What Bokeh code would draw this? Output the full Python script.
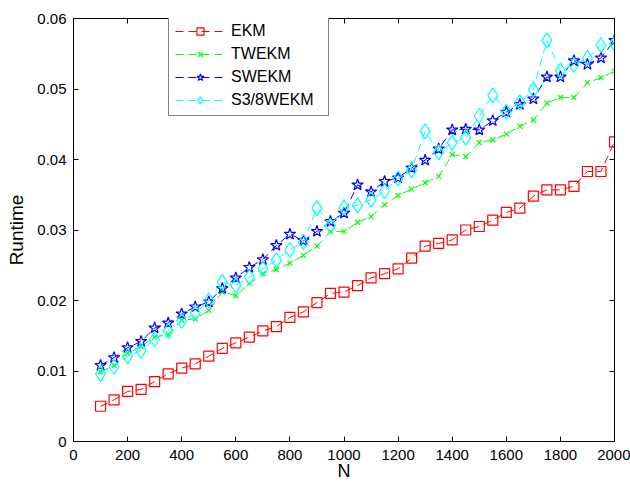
from bokeh.plotting import figure
from bokeh.models import (Range1d, FixedTicker, LinearAxis, Legend, LegendItem,
                          CustomJSTickFormatter)
from bokeh.embed import file_html
from bokeh.resources import INLINE

# Problem sizes
N = [100, 150, 200, 250, 300, 350, 400, 450, 500, 550, 600, 650, 700, 750,
     800, 850, 900, 950, 1000, 1050, 1100, 1150, 1200, 1250, 1300, 1350,
     1400, 1450, 1500, 1550, 1600, 1650, 1700, 1750, 1800, 1850, 1900,
     1950, 2000]

# Runtimes per method
ekm = [0.0050, 0.0059, 0.0071, 0.0074, 0.0085, 0.0096, 0.0104, 0.0110,
       0.0121, 0.0132, 0.0140, 0.0148, 0.0157, 0.0163, 0.0176, 0.0184,
       0.0197, 0.0210, 0.0212, 0.0221, 0.0232, 0.0238, 0.0245, 0.0260,
       0.0277, 0.0281, 0.0286, 0.0300, 0.0305, 0.0314, 0.0325, 0.0331,
       0.0348, 0.0357, 0.0357, 0.0362, 0.0383, 0.0383, 0.0425]
twekm = [0.0099, 0.0108, 0.0125, 0.0135, 0.0148, 0.0152, 0.0172, 0.0174,
         0.0186, 0.0212, 0.0207, 0.0224, 0.0238, 0.0244, 0.0253, 0.0264,
         0.0277, 0.0298, 0.0298, 0.0311, 0.0319, 0.0336, 0.0349, 0.0358,
         0.0367, 0.0376, 0.0407, 0.0404, 0.0424, 0.0428, 0.0436, 0.0447,
         0.0456, 0.0480, 0.0488, 0.0488, 0.0509, 0.0516, 0.0525]
swekm = [0.0108, 0.0119, 0.0133, 0.0142, 0.0161, 0.0168, 0.0181, 0.0191,
         0.0198, 0.0217, 0.0232, 0.0247, 0.0258, 0.0278, 0.0294, 0.0285,
         0.0298, 0.0312, 0.0324, 0.0364, 0.0354, 0.0369, 0.0374, 0.0388,
         0.0399, 0.0415, 0.0442, 0.0443, 0.0442, 0.0455, 0.0467, 0.0478,
         0.0486, 0.0517, 0.0517, 0.0540, 0.0535, 0.0544, 0.0569]
s38wekm = [0.0096, 0.0106, 0.0121, 0.0129, 0.0145, 0.0157, 0.0171, 0.0182,
           0.0200, 0.0226, 0.0221, 0.0233, 0.0245, 0.0257, 0.0272, 0.0283,
           0.0331, 0.0306, 0.0332, 0.0335, 0.0343, 0.0355, 0.0373, 0.0385,
           0.0440, 0.0410, 0.0424, 0.0431, 0.0462, 0.0491, 0.0468, 0.0481,
           0.0499, 0.0569, 0.0526, 0.0534, 0.0544, 0.0562, 0.0564]

# Axis ticks and their labels
x_ticks = [0, 200, 400, 600, 800, 1000, 1200, 1400, 1600, 1800, 2000]
x_tick_labels = ["0", "200", "400", "600", "800", "1000", "1200", "1400",
                 "1600", "1800", "2000"]
y_ticks = [0, 0.01, 0.02, 0.03, 0.04, 0.05, 0.06]
y_tick_labels = ["0", "0.01", "0.02", "0.03", "0.04", "0.05", "0.06"]

FONT = "Liberation Sans"

p = figure(width=630, height=484, output_backend="svg", toolbar_location=None,
           x_range=Range1d(0, 2000), y_range=Range1d(0, 0.06),
           x_axis_label="N", y_axis_label="Runtime")
p.min_border_left = 73
p.min_border_right = 16
p.min_border_top = 18
p.min_border_bottom = 43
p.background_fill_color = "white"
p.border_fill_color = "white"
p.outline_line_color = "black"
p.outline_line_width = 1
p.xgrid.visible = False
p.ygrid.visible = False


def style_axis(ax, ticks):
    ax.ticker = FixedTicker(ticks=ticks)
    ax.axis_line_color = "black"
    ax.axis_line_width = 1
    ax.major_tick_line_color = "black"
    ax.major_tick_in = 5
    ax.major_tick_out = 0
    ax.minor_tick_line_color = None
    ax.major_label_text_font = FONT
    ax.major_label_text_font_size = "15px"
    ax.major_label_text_color = "black"
    ax.axis_label_text_font = FONT
    ax.axis_label_text_font_size = "19px"
    ax.axis_label_text_font_style = "normal"
    ax.axis_label_text_color = "black"


xa = p.xaxis[0]
ya = p.yaxis[0]
style_axis(xa, x_ticks)
style_axis(ya, y_ticks)
xa.major_label_overrides = dict(zip(x_ticks, x_tick_labels))
ya.major_label_overrides = dict(zip(y_ticks, y_tick_labels))
xa.major_label_standoff = 8
xa.axis_label_text_font_size = "18px"
xa.axis_label_standoff = -2
ya.major_label_standoff = 7
ya.axis_label_standoff = 7

# Mirror ticks on the top and right edges of the box
blank = CustomJSTickFormatter(code="return ''")
top = LinearAxis(formatter=blank)
right = LinearAxis(formatter=blank)
style_axis(top, x_ticks)
style_axis(right, y_ticks)
for ax in (top, right):
    ax.major_label_text_font_size = "0px"
    ax.major_label_standoff = 0
p.add_layout(top, "above")
p.add_layout(right, "right")

DASH = "8 5"
series = [
    ("EKM", ekm, "#ff0000", "square", 10),
    ("TWEKM", twekm, "#00ff00", "x", 7),
    ("SWEKM", swekm, "#0000ff", "star", 12),
    ("S3/8WEKM", s38wekm, "#00ffff", "diamond", 15),
]

items = []
for name, ys, color, marker, size in series:
    ln = p.line(N, ys, line_color=color, line_width=1, line_dash=DASH)
    sc = p.scatter(N, ys, marker=marker, size=size, line_color=color,
                   fill_color=None, line_width=1.2)
    items.append(LegendItem(label=name, renderers=[ln, sc]))

legend = Legend(items=items, location=(95, 325))
legend.border_line_color = "black"
legend.border_line_width = 1
legend.background_fill_color = "white"
legend.background_fill_alpha = 1
legend.padding = 6
legend.margin = 0
legend.spacing = 5
legend.label_height = 18
legend.glyph_height = 18
legend.glyph_width = 50
legend.label_standoff = 6
legend.label_width = 91
legend.label_text_font = FONT
legend.label_text_font_size = "16px"
legend.label_text_color = "black"
p.add_layout(legend, "center")

open("out.html", "w").write(file_html(p, INLINE))
